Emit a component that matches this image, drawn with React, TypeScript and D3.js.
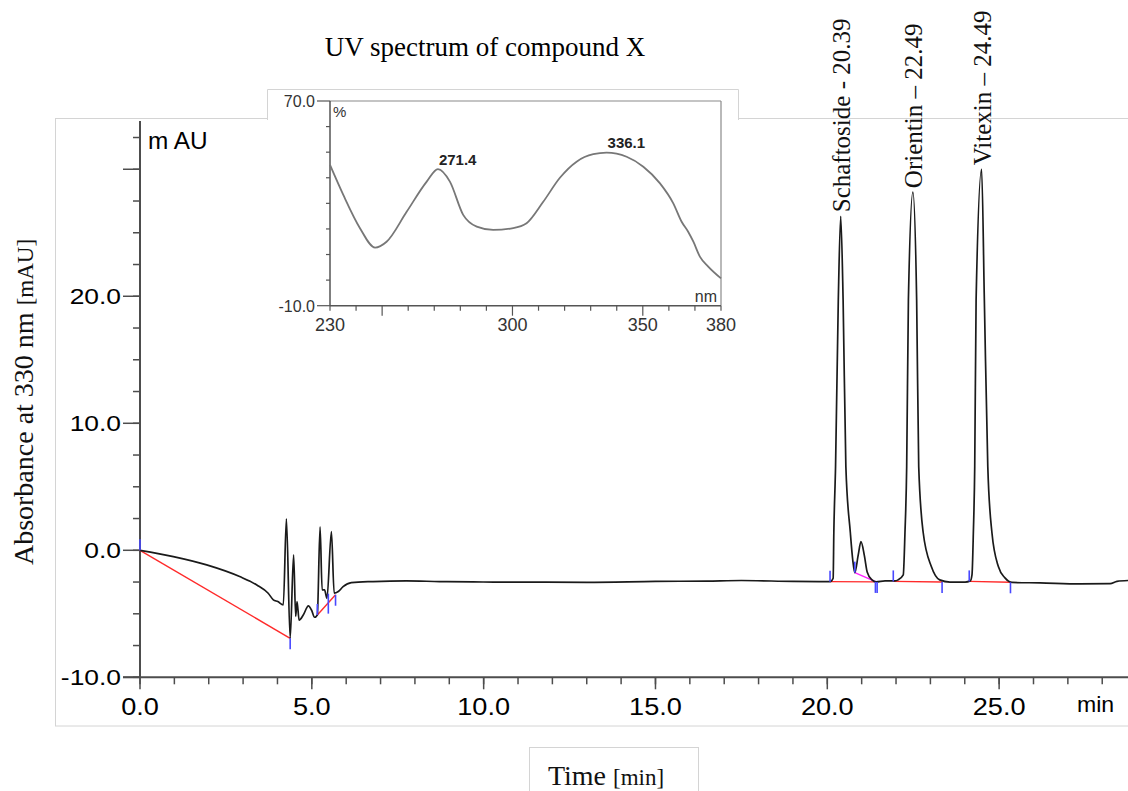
import React from "react";
import * as d3 from "d3";

// chromatogram: [time (min), absorbance (mAU)]
const trace: [number, number][] = [
  [0, 0], [0.97, -0.5], [1.94, -1.15], [2.9, -2.07], [3.4, -2.73], [3.73, -3.38],
  [3.88, -3.9], [4.01, -4.04], [4.17, -4.3], [4.26, 2.47], [4.37, -6.93],
  [4.47, -0.36], [4.53, -5.2], [4.57, -4.04], [4.63, -5.5], [4.75, -5.1],
  [4.9, -4.38], [4.99, -4.7], [5.08, -5.27], [5.16, -5.09], [5.24, 1.84],
  [5.3, -3.12], [5.37, -3.12], [5.44, -3.78], [5.57, 1.47], [5.65, -3.38],
  [5.77, -3.25], [5.91, -2.86], [6.15, -2.54], [6.78, -2.46], [7.75, -2.41],
  [8.72, -2.46], [9.69, -2.49], [11.64, -2.51], [13.0, -2.52], [15.0, -2.45],
  [16.5, -2.42], [17.5, -2.38], [19.0, -2.45], [20.08, -2.47],
  // Schaftoside
  [20.17, -2.2], [20.19, 1.4], [20.24, 6.6], [20.32, 19.7], [20.39, 26.3],
  [20.46, 19.7], [20.54, 6.6], [20.67, 1.4], [20.74, -0.75], [20.8, -1.76],
  [20.9, -0.36], [20.98, 0.69], [21.08, -0.44], [21.16, -1.7], [21.3, -2.33],
  [21.42, -2.49], [21.68, -2.41], [21.97, -2.41],
  // Orientin
  [22.06, -2.33], [22.21, -1.94], [22.26, 1.4], [22.31, 6.6], [22.36, 19.7],
  [22.49, 28.2], [22.6, 19.7], [22.66, 6.6], [22.79, 1.4], [23.03, -1.3],
  [23.27, -2.33], [23.57, -2.5], [24.01, -2.5],
  // Vitexin
  [24.16, -2.41], [24.21, -1.94], [24.25, 1.4], [24.29, 6.6], [24.33, 19.7],
  [24.49, 30.0], [24.57, 19.7], [24.67, 6.6], [24.79, 1.4], [24.98, -1.3],
  [25.17, -2.17], [25.38, -2.53], [26.19, -2.57], [27.36, -2.65], [28.23, -2.63],
  [28.43, -2.45], [28.75, -2.38],
];

// integration baselines: [t1, v1, t2, v2]
const redBaselines: [number, number, number, number][] = [
  [0, 0, 4.37, -6.93],
  [5.16, -5.09, 5.69, -3.5],
  [20.08, -2.47, 21.42, -2.49],
  [21.92, -2.45, 23.34, -2.5],
  [24.13, -2.45, 25.33, -2.52],
];
const magentaBaselines: [number, number, number, number][] = [[20.8, -1.76, 21.42, -2.49]];

// blue event marks: [time, mAU, direction] (-1 up, 1 down, 0 across)
const eventMarks: [number, number, number][] = [
  [0, 0, -1], [4.37, -6.93, 1], [5.16, -5.09, -1], [5.48, -4.2, 0], [5.69, -3.5, 1],
  [20.08, -2.47, -1], [20.8, -1.76, -1], [21.4, -2.49, 1], [21.45, -2.49, 1],
  [21.92, -2.45, -1], [23.34, -2.5, 1], [24.13, -2.45, -1], [25.33, -2.52, 1],
];

const peakNames = ["Schaftoside - 20.39", "Orientin \u2013 22.49", "Vitexin \u2013 24.49"];
const peakTimes = [20.39, 22.49, 24.49];
const peakHeights = [26.3, 28.2, 30.0];

const yMajorTicks = [-10, 0, 10, 20, 30];
const yTickLabels = ["-10.0", "0.0", "10.0", "20.0"];
const xMajorTicks = [0, 5, 10, 15, 20, 25];
const xTickLabels = ["0.0", "5.0", "10.0", "15.0", "20.0", "25.0"];

// UV spectrum inset: [wavelength nm, %]
const spectrum: [number, number][] = [
  [230, 45.0], [235.1, 33.3], [241.5, 20.3], [247.3, 12.7], [251.7, 15.0],
  [259.4, 26.7], [267.1, 38.5], [271.4, 43.4], [276.0, 38.5], [281.1, 25.5],
  [286.3, 20.9], [292.6, 19.6], [300.3, 20.3], [305.4, 22.2], [311.8, 30.6],
  [318.2, 40.0], [324.6, 46.3], [331.0, 49.2], [336.1, 49.8], [343.8, 48.2],
  [350.2, 44.3], [356.6, 37.8], [361.7, 30.0], [364.9, 22.8], [367.4, 18.9],
  [369.4, 15.0], [371.9, 9.2], [375.1, 5.3], [380, 0.7],
];
const spectrumMaxima = [271.4, 336.1];
const spectrumMaxVals = [43.4, 49.8];
const insetXLabels = [230, 300, 350, 380];
const insetYLabels = ["-10.0", "70.0"];

const App = () => {
  const x = d3.scaleLinear().domain([0, 28.75]).range([140, 1128]);
  const y = d3.scaleLinear().domain([-10, 33.8]).range([677.3, 121]);
  const xi = d3.scaleLinear().domain([230, 380]).range([330, 721]);
  const yi = d3.scaleLinear().domain([-10, 70]).range([305.7, 101]);

  const line = d3.line<[number, number]>()
    .x((d) => x(d[0]))
    .y((d) => y(d[1]))
    .curve(d3.curveMonotoneX);
  const specLine = d3.line<[number, number]>()
    .x((d) => xi(d[0]))
    .y((d) => yi(d[1]))
    .curve(d3.curveMonotoneX);

  const yMinor = d3.range(-10, 33.8, 2.5);
  const xMinor = d3.range(0, 28.76, 1);
  const axisColor = "#4d4d4d";
  const sans = "'Liberation Sans', Arial, sans-serif";
  const serif = "'Liberation Serif', 'Times New Roman', serif";

  return (
    <svg width={1128} height={791} style={{ position: "absolute", left: 0, top: 0, background: "#fff" }}>
      {/* outer frame */}
      <rect x={55.5} y={118.5} width={1100} height={607.5} fill="none" stroke="#d4d4d4" />
      <text x={485} y={56} textAnchor="middle" fontFamily={serif} fontSize={27}>UV spectrum of compound X</text>

      {/* y axis */}
      <line x1={140} x2={140} y1={y(33.8)} y2={y(-10)} stroke={axisColor} strokeWidth={2} />
      {yMinor.map((v) => (
        <line key={"ym" + v} x1={133} x2={140} y1={y(v)} y2={y(v)} stroke={axisColor} strokeWidth={1.5} />
      ))}
      {yMajorTicks.map((v) => (
        <line key={"yM" + v} x1={123} x2={140} y1={y(v)} y2={y(v)} stroke={axisColor} strokeWidth={1.5} />
      ))}
      {yTickLabels.map((s, i) => (
        <text key={"yl" + s} transform={`translate(121,${y(yMajorTicks[i]) + 8}) scale(1.2,1)`}
          textAnchor="end" fontFamily={sans} fontSize={22} fill="#000">{s}</text>
      ))}
      <text transform="translate(148,149) scale(1.06,1)" fontFamily={sans} fontSize={23} fill="#000">m AU</text>

      {/* x axis */}
      <line x1={123} x2={1128} y1={y(-10)} y2={y(-10)} stroke={axisColor} strokeWidth={2} />
      {xMinor.map((t) => (
        <line key={"xm" + t} x1={x(t)} x2={x(t)} y1={y(-10)} y2={y(-10) + 7} stroke={axisColor} strokeWidth={1.5} />
      ))}
      {xMajorTicks.map((t) => (
        <line key={"xM" + t} x1={x(t)} x2={x(t)} y1={y(-10)} y2={y(-10) + 12} stroke={axisColor} strokeWidth={1.5} />
      ))}
      {xTickLabels.map((s, i) => (
        <text key={"xl" + s} transform={`translate(${x(xMajorTicks[i])},715) scale(1.18,1)`}
          textAnchor="middle" fontFamily={sans} fontSize={23} fill="#000">{s}</text>
      ))}
      <text transform="translate(1077,712) scale(1.05,1)" fontFamily={sans} fontSize={22} fill="#000">min</text>

      {/* integration baselines */}
      {redBaselines.map((b, i) => (
        <line key={"rb" + i} x1={x(b[0])} y1={y(b[1])} x2={x(b[2])} y2={y(b[3])} stroke="#ff2a2a" strokeWidth={1.4} />
      ))}
      {magentaBaselines.map((b, i) => (
        <line key={"mb" + i} x1={x(b[0])} y1={y(b[1])} x2={x(b[2])} y2={y(b[3])} stroke="#ff20ff" strokeWidth={1.4} />
      ))}

      {/* trace */}
      <path d={line(trace) || ""} fill="none" stroke="#1a1a1a" strokeWidth={1.7} />

      {eventMarks.map((m, i) => {
        const py = y(m[1]);
        const y1 = m[2] === 0 ? py - 10 : py;
        const y2 = m[2] === 0 ? py + 10 : py + m[2] * 11;
        return <line key={"ev" + i} x1={x(m[0])} x2={x(m[0])} y1={y1} y2={y2} stroke="#4848ff" strokeWidth={1.6} />;
      })}

      {/* peak names */}
      {peakNames.map((s, i) => (
        <text key={s} transform={`translate(${x(peakTimes[i]) + 9},${y(peakHeights[i]) - 4}) rotate(-90)`}
          fontFamily={serif} fontSize={25} fill="#111">{s}</text>
      ))}

      {/* y axis title */}
      <text transform="translate(33,402) rotate(-90)" textAnchor="middle" fontFamily={serif} fontSize={28} fill="#111">
        Absorbance at 330 nm <tspan fontSize={23}>[mAU]</tspan>
      </text>

      {/* x axis title box */}
      <rect x={529.5} y={747.5} width={169} height={60} fill="#fff" stroke="#d4d4d4" />
      <text x={606} y={785} textAnchor="middle" fontFamily={serif} fontSize={28} fill="#111">
        Time <tspan fontSize={23}>[min]</tspan>
      </text>

      {/* inset UV spectrum */}
      <rect x={267} y={89} width={471} height={250} fill="#fff" />
      <path d="M267.5,120 V89.5 H738.5 V120" fill="none" stroke="#d4d4d4" />
      <line x1={330} x2={721} y1={yi(70)} y2={yi(70)} stroke="#8a8a8a" strokeWidth={1.2} />
      <line x1={721} x2={721} y1={yi(70)} y2={yi(-10)} stroke="#8a8a8a" strokeWidth={1.2} />
      <line x1={330} x2={330} y1={yi(70)} y2={yi(-10)} stroke="#555" strokeWidth={1.5} />
      <line x1={330} x2={721} y1={yi(-10)} y2={yi(-10)} stroke="#555" strokeWidth={1.5} />
      {d3.range(-10, 71, 10).map((v) => (
        <line key={"iy" + v} x1={v === -10 || v === 70 ? 317 : 326} x2={330} y1={yi(v)} y2={yi(v)} stroke="#555" strokeWidth={1.2} />
      ))}
      {d3.range(230, 381, 10).map((w) => (
        <line key={"ix" + w} x1={xi(w)} x2={xi(w)} y1={yi(-10)} y2={yi(-10) + (w % 50 === 0 ? 10 : 5)} stroke="#555" strokeWidth={1.2} />
      ))}
      {insetYLabels.map((s) => (
        <text key={"iyl" + s} x={315} y={yi(parseFloat(s)) + 6} textAnchor="end" fontFamily={sans} fontSize={16} fill="#333">{s}</text>
      ))}
      {insetXLabels.map((w) => (
        <text key={"ixl" + w} x={xi(w)} y={331} textAnchor="middle" fontFamily={sans} fontSize={18} fill="#333">{w}</text>
      ))}
      <text x={333} y={117} fontFamily={sans} fontSize={15} fill="#333">%</text>
      <text x={717} y={302} textAnchor="end" fontFamily={sans} fontSize={16} fill="#333">nm</text>
      <path d={specLine(spectrum) || ""} fill="none" stroke="#777" strokeWidth={1.8} />
      {spectrumMaxima.map((w, i) => (
        <text key={"mx" + w} x={xi(w) + 1} y={yi(spectrumMaxVals[i]) - 4.5} fontFamily={sans} fontSize={15} fontWeight="bold" fill="#222">
          {w.toFixed(1)}
        </text>
      ))}
    </svg>
  );
};

export default App;
